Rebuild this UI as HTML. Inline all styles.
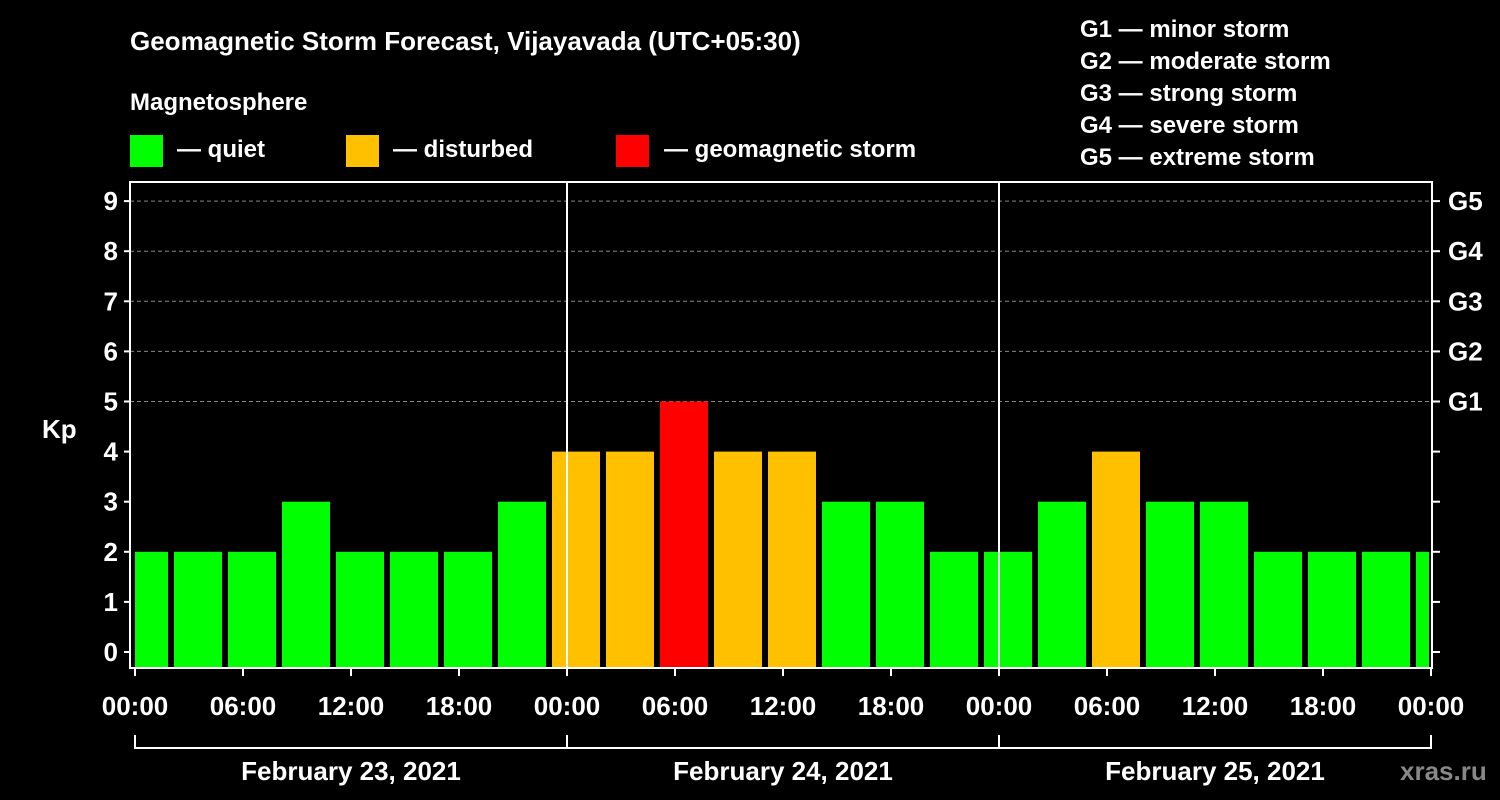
<!DOCTYPE html>
<html><head><meta charset="utf-8"><style>
body{margin:0;background:#000;}
svg{display:block;font-family:"Liberation Sans",Arial,sans-serif;font-weight:bold;}
</style></head><body>
<svg id="c" width="1500" height="800" viewBox="0 0 1500 800">
<rect width="1500" height="800" fill="#000"/>
<text x="130" y="50" fill="#fff" font-size="26">Geomagnetic Storm Forecast, Vijayavada (UTC+05:30)</text>
<text x="130" y="110" fill="#fff" font-size="24">Magnetosphere</text>
<g><rect x="130" y="135" width="33" height="32" fill="#00ff00"/><text x="177" y="157" fill="#fff" font-size="24">— quiet</text></g>
<g><rect x="346" y="135" width="33" height="32" fill="#ffc000"/><text x="393" y="157" fill="#fff" font-size="24">— disturbed</text></g>
<g><rect x="616" y="135" width="33" height="32" fill="#ff0000"/><text x="664" y="157" fill="#fff" font-size="24">— geomagnetic storm</text></g>
<g fill="#fff" font-size="24">
<text x="1080" y="37">G1 — minor storm</text><text x="1080" y="69">G2 — moderate storm</text><text x="1080" y="101">G3 — strong storm</text><text x="1080" y="133">G4 — severe storm</text><text x="1080" y="165">G5 — extreme storm</text></g>
<text x="42" y="438" fill="#fff" font-size="26">Kp</text>
<text x="1400" y="780" fill="#888" font-size="26">xras.ru</text>
<g id="plot"></g>
</svg>
<script>
const kpValues=[2,2,2,3,2,2,2,3,4,4,5,4,4,3,3,2,2,3,4,3,3,2,2,2,2];
const yTicks=[0,1,2,3,4,5,6,7,8,9];
const gLabels=["G1","G2","G3","G4","G5"];
const xTickLabels=["00:00","06:00","12:00","18:00","00:00","06:00","12:00","18:00","00:00","06:00","12:00","18:00","00:00"];
const dayLabels=["February 23, 2021","February 24, 2021","February 25, 2021"];
const NS="http://www.w3.org/2000/svg";
const L=130,R=1432,T=182,B=668,X0=135,PXH=18;
const xs=h=>X0+h*PXH;
const ys=v=>652-50.1*v;
const g=document.getElementById('plot');
function mk(t,a,p){const e=document.createElementNS(NS,t);for(const k in a)e.setAttribute(k,a[k]);(p||g).appendChild(e);return e;}
for(let v=5;v<=9;v++){const e=mk('line',{x1:L,x2:R,y1:ys(v),y2:ys(v),stroke:'#888','stroke-dasharray':'4,3'});

}
kpValues.forEach((v,i)=>{
 let s=i==0?0:-1+3*i, e=Math.min(72,2+3*i);
 let x1=xs(s)+(i==0?0:3), x2=xs(e)-(e>=72?2:3);
 const col=v>=5?'#ff0000':v>=4?'#ffc000':'#00ff00';
 const r=mk('rect',{x:x1,y:ys(v),width:x2-x1,height:B-1-ys(v),fill:col});
 
 
});
[24,48].forEach(h=>{const e=mk('line',{x1:xs(h),x2:xs(h),y1:T,y2:B,stroke:'#fff','stroke-width':2});

});
const fr=mk('rect',{x:L,y:T,width:R-L,height:B-T,fill:'none',stroke:'#fff','stroke-width':2});


yTicks.forEach(v=>{
 mk('line',{x1:L-6,x2:L,y1:ys(v),y2:ys(v),stroke:'#fff','stroke-width':2});
 mk('line',{x1:R,x2:R+8,y1:ys(v),y2:ys(v),stroke:'#fff','stroke-width':2});
 const t=mk('text',{x:L-12,y:ys(v)+9,fill:'#fff','font-size':26,'text-anchor':'end'});t.textContent=v;
 
 
});
gLabels.forEach((s,i)=>{const t=mk('text',{x:1448,y:ys(5+i)+9,fill:'#fff','font-size':26});t.textContent=s;
 
 });
xTickLabels.forEach((s,i)=>{const x=xs(i*6);
 mk('line',{x1:x,x2:x,y1:B,y2:B+8,stroke:'#fff','stroke-width':2});
 const t=mk('text',{x:x,y:715,fill:'#fff','font-size':26,'text-anchor':'middle'});t.textContent=s;
 
 });
mk('line',{x1:xs(0),x2:xs(72),y1:748,y2:748,stroke:'#fff','stroke-width':2});
[0,24,48,72].forEach(h=>mk('line',{x1:xs(h),x2:xs(h),y1:735,y2:749,stroke:'#fff','stroke-width':2}));
dayLabels.forEach((s,i)=>{const t=mk('text',{x:xs(12+24*i),y:780,fill:'#fff','font-size':26,'text-anchor':'middle'});t.textContent=s;
 
 });
</script>
</body></html>
